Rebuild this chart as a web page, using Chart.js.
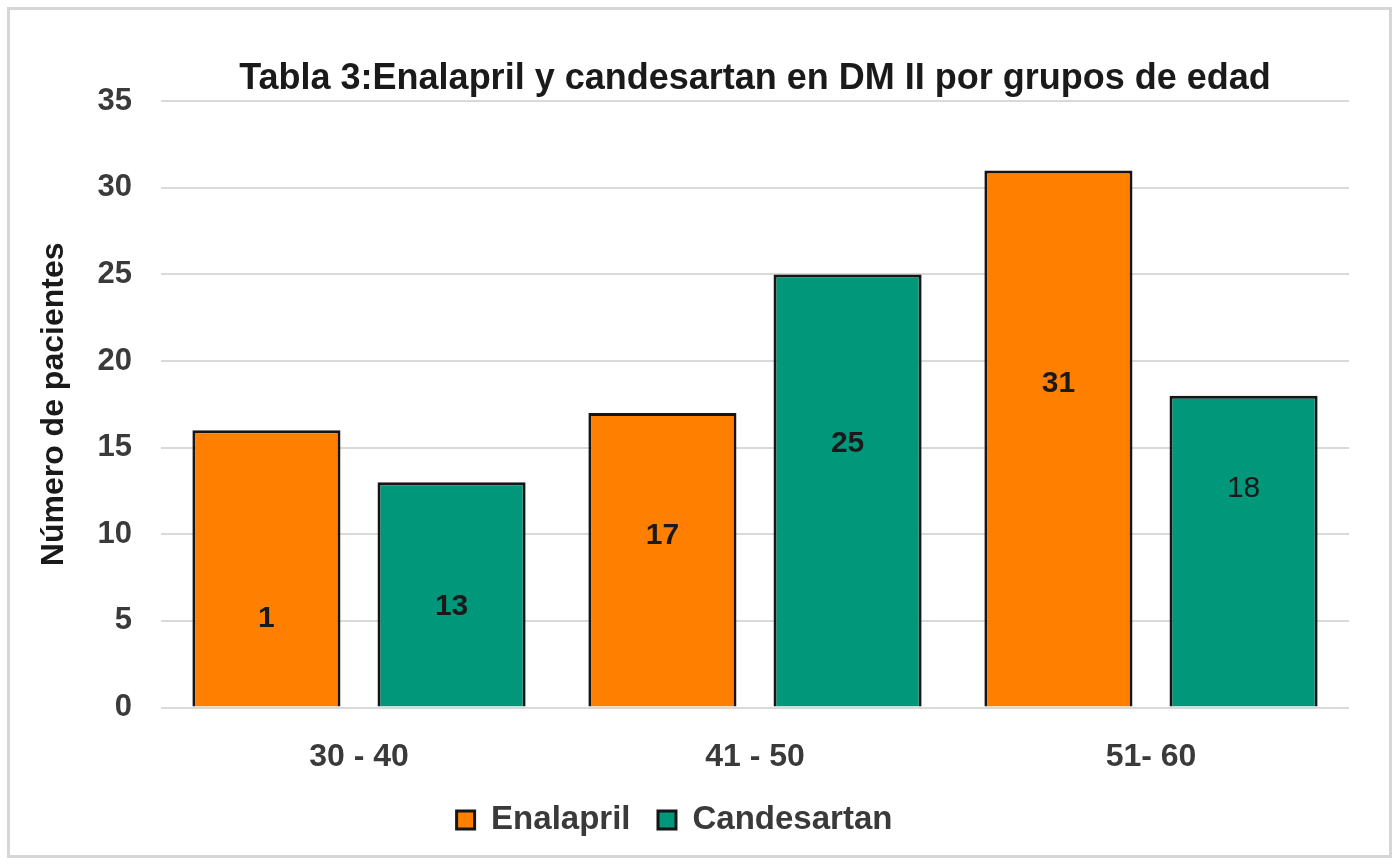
<!DOCTYPE html>
<html>
<head>
<meta charset="utf-8">
<script src="https://cdn.jsdelivr.net/npm/chart.js@4"></script>
<style>
  html, body { margin: 0; padding: 0; background: #fff; }
  #wrap { position: relative; width: 1399px; height: 864px; }
  #frame { position: absolute; left: 7px; top: 7px; width: 1379px; height: 845px; border: 3px solid #d6d6d6; pointer-events: none; }
</style>
</head>
<body>
<div id="wrap">
  <canvas id="chart" width="1399" height="864"></canvas>
  <div id="frame"></div>
</div>
<script>
const ageGroups = ['30 - 40', '41 - 50', '51- 60'];
const enalapril = [16, 17, 31];
const candesartan = [13, 25, 18];
// texts printed on the bars (as in the original figure)
const enalaprilLabels = ['1', '17', '31'];
const candesartanLabels = ['13', '25', '18'];
const yTicks = [0, 5, 10, 15, 20, 25, 30, 35];

const FONT = '"Liberation Sans", Arial, sans-serif';

// where each bar label sits, in axis units
const labelAnchor = [[5.1, 9.9, 18.7], [5.8, 15.2, 12.6]];
const labelBold = [[true, true, true], [true, true, false]];

const barLabels = {
    id: 'barLabels',
    afterDatasetsDraw(chart) {
        const ctx = chart.ctx;
        const y = chart.scales.y;
        const texts = [enalaprilLabels, candesartanLabels];
        ctx.save();
        ctx.fillStyle = '#1a1a1a';
        ctx.textAlign = 'center';
        ctx.textBaseline = 'middle';
        chart.data.datasets.forEach((ds, d) => {
            chart.getDatasetMeta(d).data.forEach((bar, i) => {
                ctx.font = (labelBold[d][i] ? 'bold ' : '') + '30px ' + FONT;
                ctx.fillText(texts[d][i], bar.x, y.getPixelForValue(labelAnchor[d][i]));
            });
        });
        ctx.restore();
    }
};

new Chart(document.getElementById('chart').getContext('2d'), {
    type: 'bar',
    data: {
        labels: ageGroups,
        datasets: [
            { label: 'Enalapril', data: enalapril, backgroundColor: '#ff8000', borderColor: '#151515', borderWidth: 3 },
            { label: 'Candesartan', data: candesartan, backgroundColor: '#00977a', borderColor: '#151515', borderWidth: 3 }
        ]
    },
    options: {
        responsive: false,
        animation: false,
        layout: { padding: { top: 57, right: 50, bottom: 17.5, left: 0 } },
        datasets: { bar: { barPercentage: 0.8, categoryPercentage: 0.935 } },
        plugins: {
            title: {
                display: true,
                text: 'Tabla 3:Enalapril y candesartan en DM II por grupos de edad',
                fullSize: false,
                color: '#1a1a1a',
                font: { family: FONT, size: 36, weight: 'bold' },
                padding: { top: 0, bottom: 1 }
            },
            legend: {
                position: 'bottom',
                labels: {
                    color: '#3a3a3a',
                    font: { family: FONT, size: 33, weight: 'bold' },
                    boxWidth: 18,
                    boxHeight: 18,
                    padding: 27.5
                }
            },
            tooltip: { enabled: false }
        },
        scales: {
            x: {
                afterFit: s => { s.height = 68.5; },
                grid: { display: false, drawTicks: false },
                border: { display: false },
                ticks: { color: '#3a3a3a', font: { family: FONT, size: 32, weight: 'bold' }, padding: 30 }
            },
            y: {
                min: 0,
                max: 35,
                afterBuildTicks: s => { s.ticks = yTicks.map(v => ({ value: v })); },
                afterFit: s => { s.width = 161; },
                grid: { color: '#d9d9d9', lineWidth: 2, drawTicks: false },
                border: { display: false },
                ticks: { color: '#3a3a3a', font: { family: FONT, size: 31, weight: 'bold' }, padding: 29 },
                title: {
                    display: true,
                    text: 'Número de pacientes',
                    color: '#1a1a1a',
                    font: { family: FONT, size: 32, weight: 'bold' },
                    padding: { top: 35, bottom: 0 }
                }
            }
        }
    },
    plugins: [barLabels]
});
</script>
</body>
</html>
